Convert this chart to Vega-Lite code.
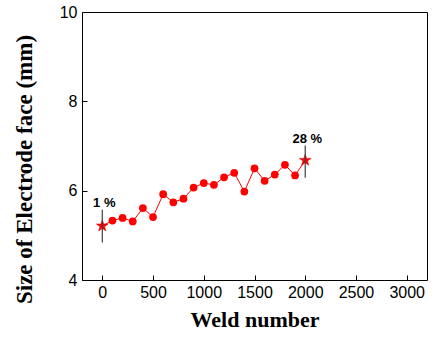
{
  "$schema": "https://vega.github.io/schema/vega-lite/v6.json",
  "autosize": "none",
  "padding": {"left": 82, "top": 12, "right": 5, "bottom": 61},
  "width": 345,
  "height": 268,
  "background": "white",
  "config": {
    "view": {"stroke": "black", "strokeWidth": 1},
    "axis": {
      "grid": false,
      "domain": false,
      "tickColor": "black",
      "labelFont": "Liberation Sans",
      "labelFontSize": 16,
      "labelColor": "black",
      "titleFont": "Liberation Serif",
      "titleFontSize": 22,
      "titleFontWeight": "bold",
      "titleColor": "black"
    }
  },
  "data": {
    "values": [
      {"weld": 0, "size": 5.21, "kind": "star", "lo": 4.84, "hi": 5.57, "label": "1 %"},
      {"weld": 100, "size": 5.33, "kind": "dot"},
      {"weld": 200, "size": 5.39, "kind": "dot"},
      {"weld": 300, "size": 5.31, "kind": "dot"},
      {"weld": 400, "size": 5.61, "kind": "dot"},
      {"weld": 500, "size": 5.41, "kind": "dot"},
      {"weld": 600, "size": 5.92, "kind": "dot"},
      {"weld": 700, "size": 5.74, "kind": "dot"},
      {"weld": 800, "size": 5.82, "kind": "dot"},
      {"weld": 900, "size": 6.07, "kind": "dot"},
      {"weld": 1000, "size": 6.17, "kind": "dot"},
      {"weld": 1100, "size": 6.13, "kind": "dot"},
      {"weld": 1200, "size": 6.30, "kind": "dot"},
      {"weld": 1300, "size": 6.40, "kind": "dot"},
      {"weld": 1400, "size": 5.98, "kind": "dot"},
      {"weld": 1500, "size": 6.50, "kind": "dot"},
      {"weld": 1600, "size": 6.22, "kind": "dot"},
      {"weld": 1700, "size": 6.36, "kind": "dot"},
      {"weld": 1800, "size": 6.58, "kind": "dot"},
      {"weld": 1900, "size": 6.34, "kind": "dot"},
      {"weld": 2000, "size": 6.68, "kind": "star", "lo": 6.29, "hi": 7.01, "label": "28 %"}
    ]
  },
  "encoding": {
    "x": {
      "field": "weld",
      "type": "quantitative",
      "scale": {"domain": [-200, 3200], "nice": false, "zero": false},
      "axis": {
        "title": "Weld number",
        "format": "d",
        "values": [0, 500, 1000, 1500, 2000, 2500, 3000],
        "tickSize": -5,
        "labelPadding": 9,
        "titlePadding": 9
      }
    },
    "y": {
      "field": "size",
      "type": "quantitative",
      "scale": {"domain": [4, 10], "nice": false, "zero": false},
      "axis": {
        "title": "Size of Electrode face (mm)",
        "titleFontSize": 23,
        "format": "d",
        "values": [4, 6, 8, 10],
        "tickSize": -5,
        "labelPadding": 10,
        "titleX": -46,
        "titleY": 157
      }
    }
  },
  "layer": [
    {
      "mark": {"type": "line", "color": "#ff0000", "strokeWidth": 1}
    },
    {
      "transform": [{"filter": "datum.kind === 'dot'"}],
      "mark": {"type": "point", "shape": "circle", "filled": true, "color": "#ff0000", "opacity": 1, "size": 60}
    },
    {
      "transform": [{"filter": "datum.kind === 'star'"}],
      "mark": {
        "type": "point",
        "shape": "M0,-1L0.225,-0.309L0.951,-0.309L0.363,0.118L0.588,0.809L0,0.382L-0.588,0.809L-0.363,0.118L-0.951,-0.309L-0.225,-0.309Z",
        "filled": true,
        "fill": "#ff0000",
        "stroke": "#e00000",
        "strokeWidth": 0.6,
        "opacity": 1,
        "size": 150
      }
    },
    {
      "transform": [{"filter": "datum.kind === 'star'"}],
      "mark": {"type": "rule", "color": "#404040", "strokeWidth": 1.2},
      "encoding": {
        "y": {"field": "lo", "type": "quantitative"},
        "y2": {"field": "hi"}
      }
    },
    {
      "transform": [{"filter": "datum.kind === 'star'"}],
      "mark": {
        "type": "text",
        "font": "Liberation Sans",
        "fontSize": 13,
        "fontWeight": "bold",
        "color": "black",
        "baseline": "alphabetic",
        "align": "center",
        "dx": 2,
        "dy": -3
      },
      "encoding": {
        "y": {"field": "hi", "type": "quantitative"},
        "text": {"field": "label"}
      }
    }
  ]
}
